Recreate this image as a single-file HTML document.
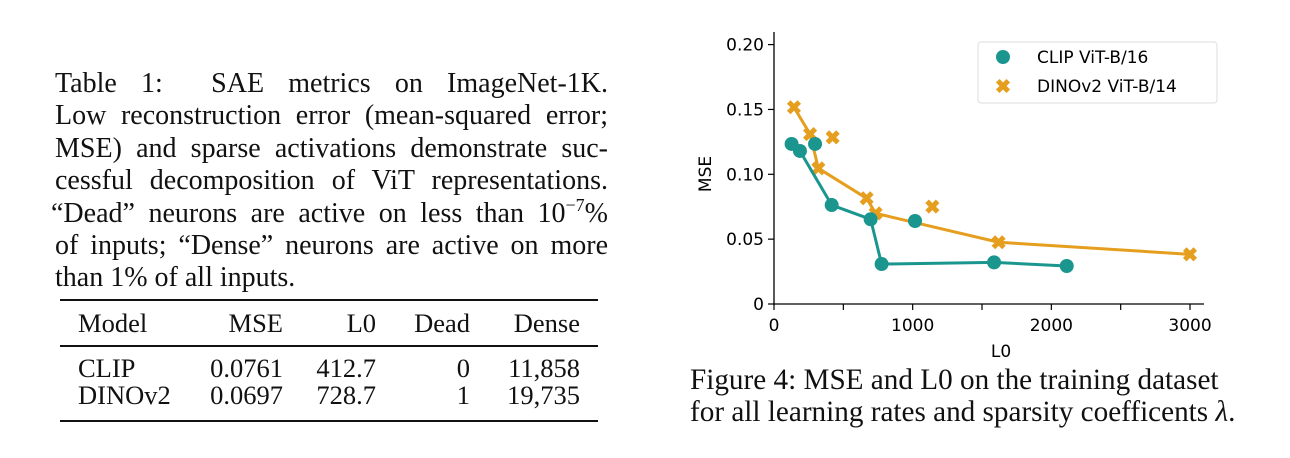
<!DOCTYPE html>
<html><head><meta charset="utf-8">
<style>
body{margin:0;width:1290px;height:458px;background:#fff;overflow:hidden;position:relative;font-family:"Liberation Serif",serif;color:#111}
.cap{position:absolute;left:55px;top:68px;width:553px;font-size:28px;line-height:32.4px}
.cap div{text-align:justify;text-align-last:justify;white-space:nowrap;height:32.4px}
.cap div.last{text-align-last:left}
.cap sup{font-size:18px;line-height:0;position:relative;top:-11px;vertical-align:baseline}
.rule{position:absolute;left:60px;width:538px;background:#111}
.cell{position:absolute;font-size:26.5px;line-height:30px}
.fig{position:absolute;left:690px;top:364px;width:600px;font-size:29.2px;line-height:32px;white-space:nowrap}
</style></head><body>
<div class="cap">
<div>Table 1:&nbsp; SAE metrics on ImageNet-1K.</div>
<div>Low reconstruction error (mean-squared error;</div>
<div>MSE) and sparse activations demonstrate suc-</div>
<div>cessful decomposition of ViT representations.</div>
<div style="margin-left:-4px">“Dead” neurons are active on less than 10<sup>−7</sup>%</div>
<div>of inputs; “Dense” neurons are active on more</div>
<div class="last">than 1% of all inputs.</div>
</div>
<div class="rule" style="top:299px;height:2px"></div>
<div class="rule" style="top:345px;height:1.5px"></div>
<div class="rule" style="top:420px;height:2px"></div>
<div>
<div class="cell" style="left:78px;top:308px">Model</div>
<div class="cell" style="right:1007px;top:308px">MSE</div>
<div class="cell" style="right:914px;top:308px">L0</div>
<div class="cell" style="right:820px;top:308px">Dead</div>
<div class="cell" style="right:710px;top:308px">Dense</div>
<div class="cell" style="left:78px;top:353px">CLIP</div>
<div class="cell" style="right:1007px;top:353px">0.0761</div>
<div class="cell" style="right:914px;top:353px">412.7</div>
<div class="cell" style="right:820px;top:353px">0</div>
<div class="cell" style="right:710px;top:353px">11,858</div>
<div class="cell" style="left:78px;top:380px">DINOv2</div>
<div class="cell" style="right:1007px;top:380px">0.0697</div>
<div class="cell" style="right:914px;top:380px">728.7</div>
<div class="cell" style="right:820px;top:380px">1</div>
<div class="cell" style="right:710px;top:380px">19,735</div>
</div>
<svg id="chart" width="1290" height="458" style="position:absolute;left:0;top:0" font-family="DejaVu Sans, sans-serif"></svg>
<div class="fig">Figure 4: MSE and L0 on the training dataset<br>for all learning rates and sparsity coefficents <i>λ</i>.</div>
<script>
const xTicks=[0,1000,2000,3000];
const yTicks=[0,0.05,0.10,0.15,0.20];
const yTickLabels=["0","0.05","0.10","0.15","0.20"];
const clipL0=[127,187,296,416,697,776,1017,1587,2111];
const clipMSE=[0.1234,0.118,0.1234,0.0763,0.0653,0.0308,0.064,0.0321,0.0293];
const clipFrontier=[0,1,3,4,5,7,8];
const dinoL0=[144,260,423,320,668,733,1142,1620,3000];
const dinoMSE=[0.1517,0.131,0.1285,0.1046,0.0815,0.0699,0.0751,0.0476,0.0383];
const dinoFrontier=[0,1,3,4,5,7,8];
const NS="http://www.w3.org/2000/svg";
const svg=document.getElementById('chart');
const X=v=>774+v*0.13867, Y=v=>304-v*1297;
function mk(t,a,p){const e=document.createElementNS(NS,t);for(const k in a)e.setAttribute(k,a[k]);(p||svg).appendChild(e);return e;}
let e;
e=mk('line',{x1:774,y1:32,x2:774,y2:305,stroke:'#000','stroke-width':1.3});


e=mk('line',{x1:773,y1:304,x2:1204,y2:304,stroke:'#000','stroke-width':1.3});


for(let v=0;v<=3000;v+=500){mk('line',{x1:X(v),y1:304,x2:X(v),y2:310,stroke:'#000','stroke-width':1.2});}
xTicks.forEach(v=>{e=mk('text',{x:X(v),y:331,'font-size':17,'text-anchor':'middle'});e.textContent=v;

});
yTicks.forEach((v,i)=>{mk('line',{x1:768,y1:Y(v),x2:774,y2:Y(v),stroke:'#000','stroke-width':1.2});
e=mk('text',{x:764,y:Y(v)+6,'font-size':17,'text-anchor':'end'});e.textContent=yTickLabels[i];

});
e=mk('text',{x:1001,y:357,'font-size':17,'text-anchor':'middle'});e.textContent='L0';


e=mk('text',{x:0,y:0,'font-size':17,'text-anchor':'middle',transform:'translate(711,174) rotate(-90)'});e.textContent='MSE';


const teal='#1a968f',orange='#e59e1d';
function series(xs,ys,fr,col,kind,name){
 e=mk('polyline',{points:fr.map(i=>X(xs[i])+','+Y(ys[i])).join(' '),fill:'none',stroke:col,'stroke-width':3,'stroke-linejoin':'round'});
 
 
 xs.forEach((x,i)=>{marker(X(x),Y(ys[i]),col,kind,name);});
}
function marker(cx,cy,col,kind,name){
 if(kind==='o'){e=mk('circle',{cx:cx,cy:cy,r:7,fill:col});}
 else{e=mk('path',{d:`M${cx-3.5},${cy-3.5}L${cx+3.5},${cy+3.5}M${cx+3.5},${cy-3.5}L${cx-3.5},${cy+3.5}`,stroke:col,'stroke-width':5,'stroke-linecap':'square'});}
 
 
}
series(dinoL0,dinoMSE,dinoFrontier,orange,'x','dino');
series(clipL0,clipMSE,clipFrontier,teal,'o','clip');
e=mk('rect',{x:978,y:42,width:239,height:61,rx:3,fill:'#fff',stroke:'#ddd','stroke-width':1});


marker(1003,57,teal,'o','legend-clip');
marker(1003,86,orange,'x','legend-dino');
e=mk('text',{x:1037,y:63,'font-size':17});e.textContent='CLIP ViT-B/16';


e=mk('text',{x:1037,y:92,'font-size':17});e.textContent='DINOv2 ViT-B/14';


</script>
</body></html>
